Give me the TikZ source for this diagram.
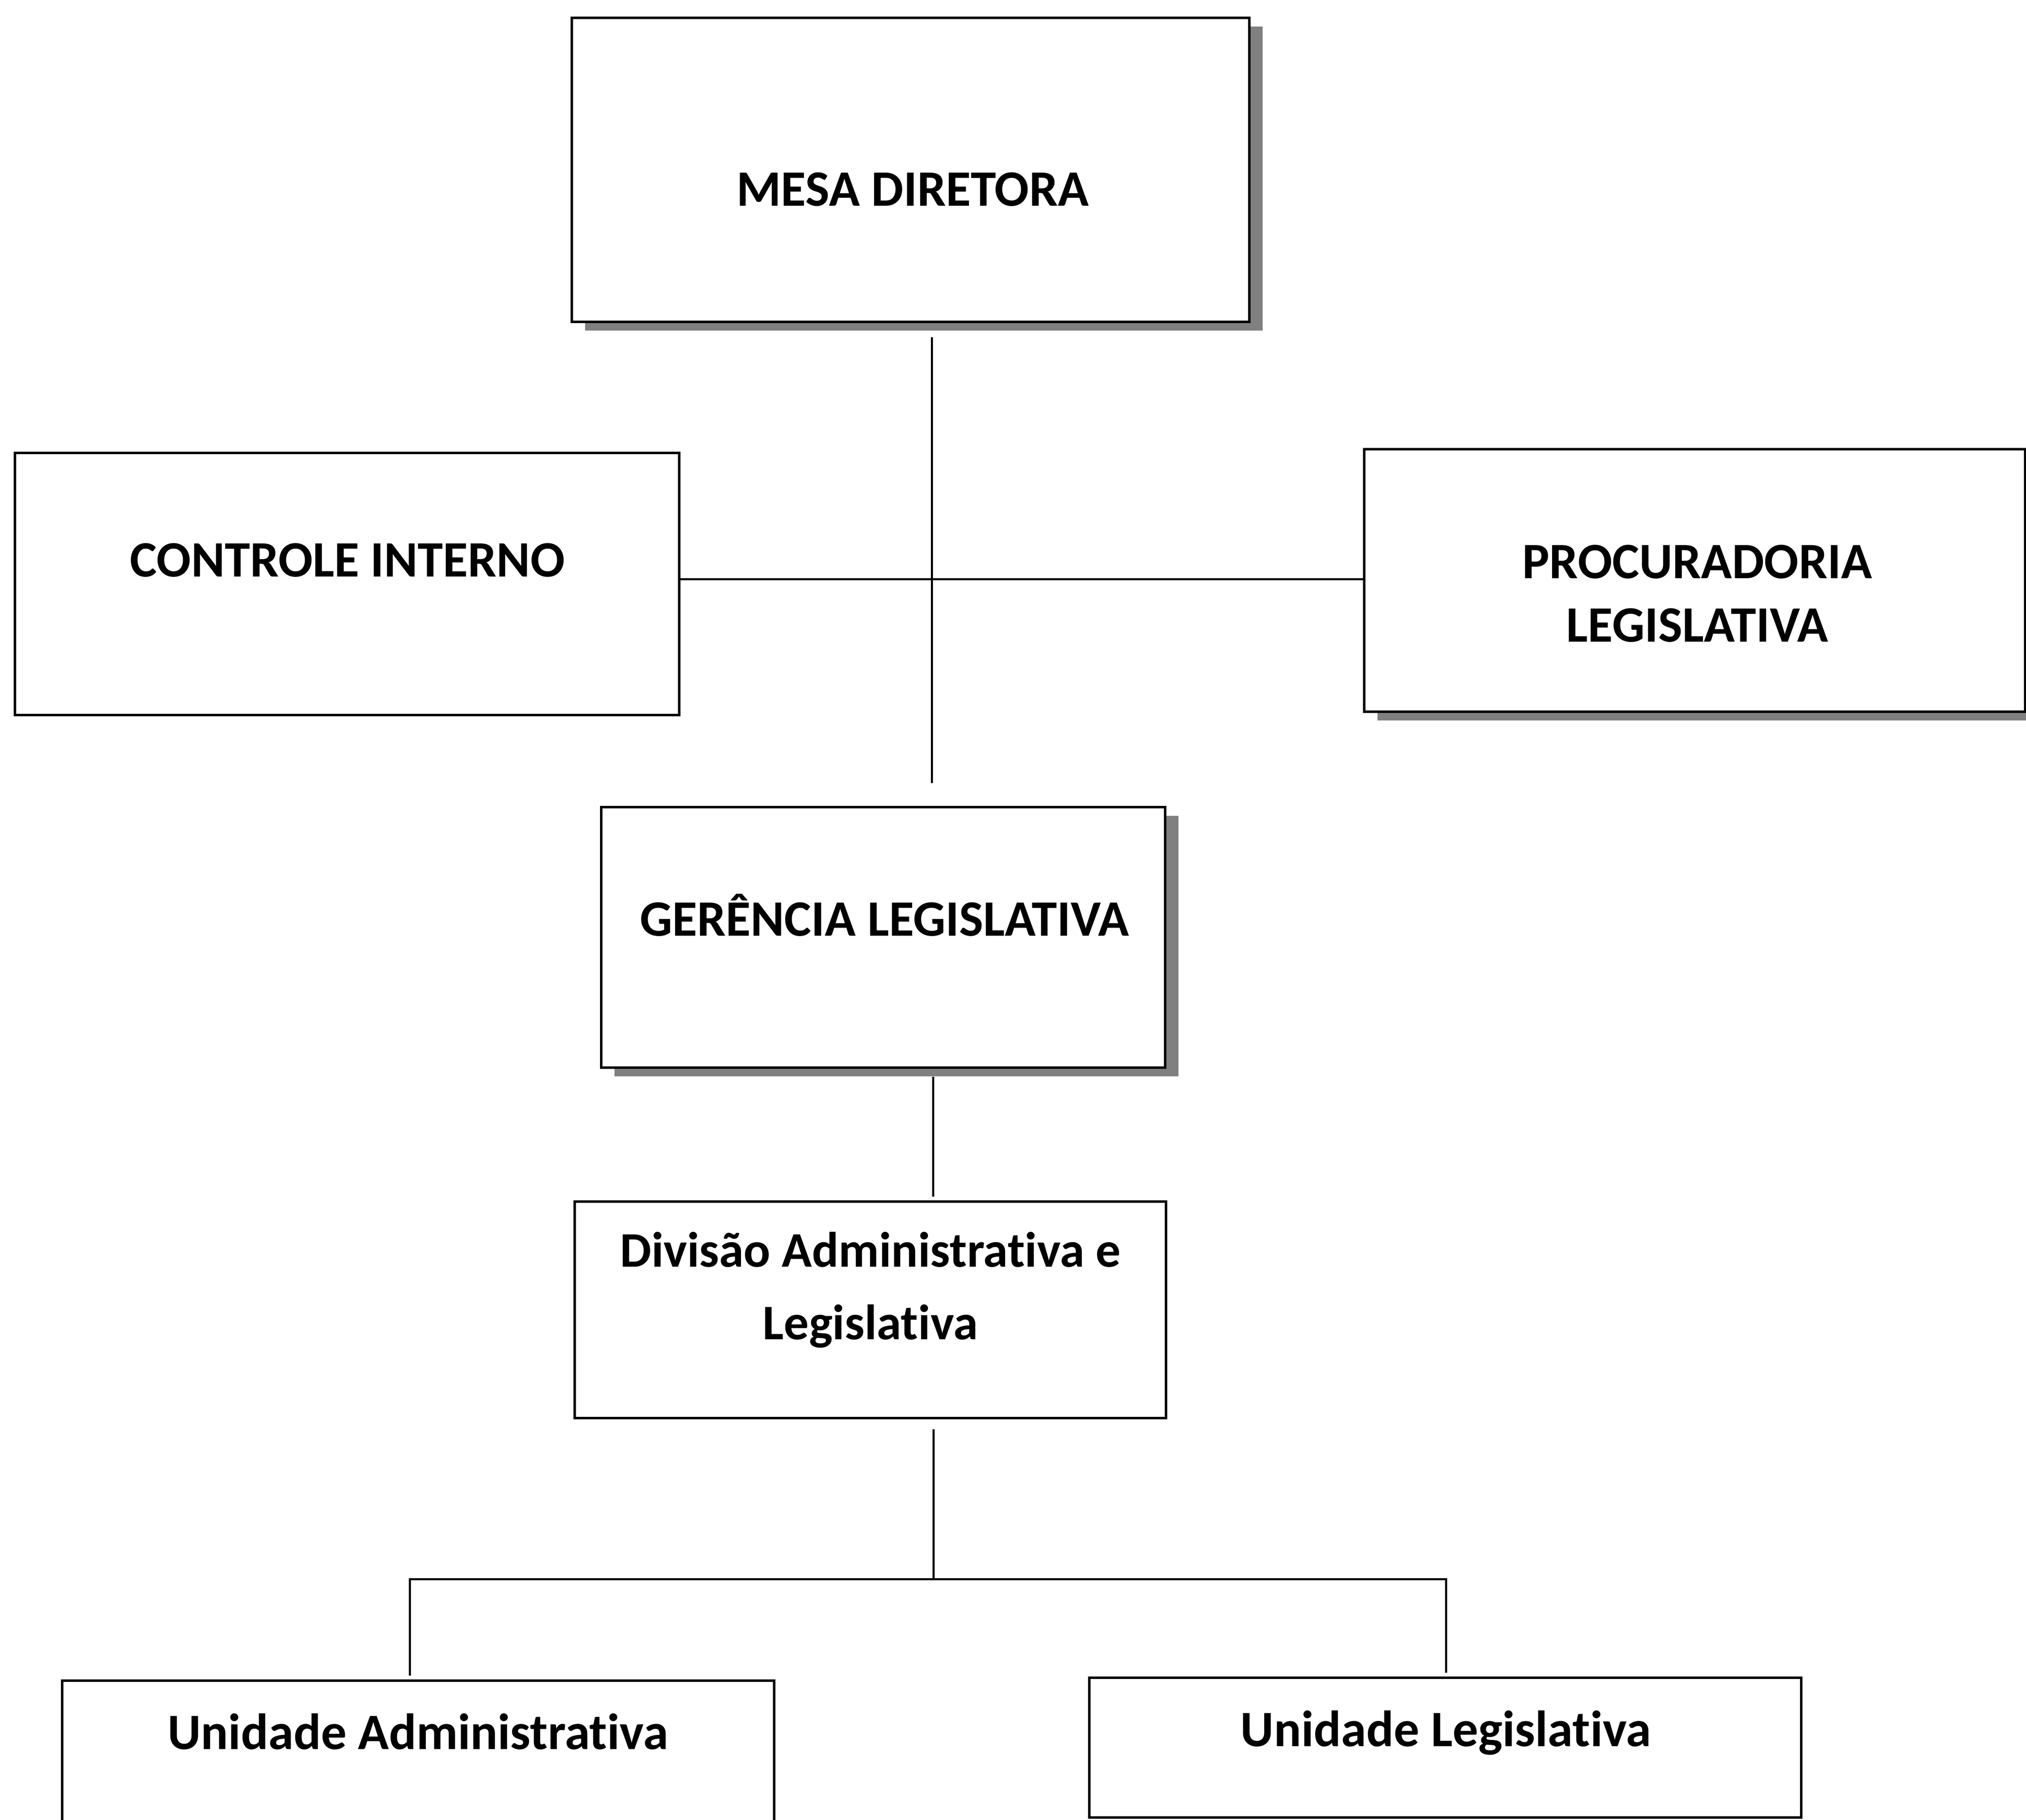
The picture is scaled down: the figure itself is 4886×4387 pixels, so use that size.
\documentclass[tikz,border=0pt]{standalone}
\usepackage{fontspec}
\setmainfont[Ligatures=NoCommon]{Carlito}
\usetikzlibrary{shadows}
\begin{document}
\begin{tikzpicture}[x=0.1pt,y=-0.1pt,
  box/.style={draw=black, line width=0.6pt, fill=white, rectangle, inner sep=0pt},
  shadowed/.style={drop shadow={shadow xshift=3.2pt, shadow yshift=-2.1pt, fill=black!50, opacity=1}},
  conn/.style={draw=black, line width=0.5pt},
  lbl/.style={font=\fontsize{12.3}{15.3}\selectfont\bfseries, inner sep=0pt, anchor=base, align=center}]
\useasboundingbox (0,0) rectangle (4886,4387);
\clip (0,0) rectangle (4886,4387);

% boxes
\node[box, shadowed, minimum width=163.4pt, minimum height=73.3pt] (mesa) at (2196,409.5) {};
\node[box, minimum width=160.2pt, minimum height=63.2pt] (ctrl) at (837,1408) {};
\node[box, shadowed, minimum width=159.4pt, minimum height=63.3pt] (proc) at (4087,1399.5) {};
\node[box, shadowed, minimum width=136.0pt, minimum height=62.8pt] (ger) at (2130,2260) {};
\node[box, minimum width=142.6pt, minimum height=52.2pt] (div) at (2099,3158) {};
\node[box, minimum width=171.7pt, minimum height=54.8pt] (ua) at (1008.5,4326) {};
\node[box, minimum width=171.7pt, minimum height=33.7pt] (ul) at (3485.5,4213.5) {};

% labels (anchor=base is the baseline of the last line)
\node[lbl] (mesaT) at (2201,496) {MESA DIRETORA};
\node[lbl] (ctrlT) at (838,1390) {CONTROLE INTERNO};
\node[lbl] (procT) at (4093,1547) {PROCURADORIA\\LEGISLATIVA};
\node[lbl] (gerT) at (2133,2256) {GERÊNCIA LEGISLATIVA};
\node[lbl, font=\fontsize{12.0}{17.5}\selectfont\bfseries] (divT) at (2099,3229) {Divisão Administrativa e\\Legislativa};
\node[lbl] (uaT) at (1008,4217) {Unidade Administrativa};
\node[lbl] (ulT) at (3487,4210) {Unidade Legislativa};

% connector points
\coordinate (t1) at (2247,813);
\coordinate (t2) at (2247,1888);
\coordinate (hmid) at (2247,1396);
\coordinate (g1) at (2250,2596);
\coordinate (g2) at (2250,2885);
\coordinate (d1) at (2251,3446);
\coordinate (d2) at (2251,3807);
\coordinate (barL) at (988,3807);
\coordinate (barR) at (3487,3807);
\coordinate (dropL) at (988,4040);
\coordinate (dropR) at (3487,4033);

% connectors
\draw[conn] (t1) -- (t2);
\draw[conn] (ctrl.east |- hmid) -- (proc.west |- hmid);
\draw[conn] (g1) -- (g2);
\draw[conn] (d1) -- (d2);
\draw[conn] (dropL) -- (barL) -- (barR) -- (dropR);
\end{tikzpicture}
\end{document}
